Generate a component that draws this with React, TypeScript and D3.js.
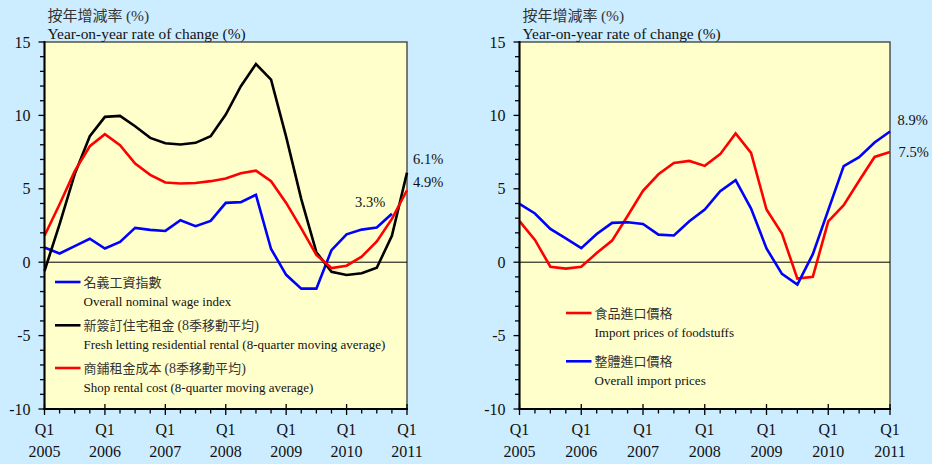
import React from 'react';
import * as d3 from 'd3';

// ---- data ----
const years = ['2005', '2006', '2007', '2008', '2009', '2010', '2011'];
const quarterLabel = 'Q1';
const yTickValues = [15, 10, 5, 0, -5, -10];

// Left panel (quarterly, from Q1 2005)
const wageIndex = [1.0, 0.59, 1.09, 1.6, 0.93, 1.38, 2.34, 2.2, 2.13, 2.86, 2.45, 2.81, 4.04, 4.09, 4.59, 0.9, -0.86, -1.8, -1.8, 0.82, 1.9, 2.22, 2.36, 3.3];
const freshRental = [-0.6, 2.6, 6.0, 8.58, 9.9, 9.97, 9.26, 8.47, 8.1, 8.02, 8.13, 8.58, 10.06, 11.99, 13.5, 12.44, 8.54, 4.3, 0.68, -0.65, -0.87, -0.75, -0.38, 1.8, 6.1];
const shopRental = [1.8, 3.95, 6.2, 7.9, 8.72, 7.97, 6.72, 5.95, 5.43, 5.36, 5.4, 5.52, 5.7, 6.06, 6.24, 5.52, 4.04, 2.3, 0.5, -0.4, -0.24, 0.38, 1.42, 2.95, 4.9];

// Right panel
const foodImport = [2.8, 1.52, -0.31, -0.44, -0.31, 0.62, 1.47, 3.15, 4.86, 5.99, 6.76, 6.9, 6.56, 7.36, 8.77, 7.45, 3.59, 1.95, -1.12, -1.0, 2.78, 3.88, 5.55, 7.17, 7.5];
const overallImport = [3.97, 3.32, 2.27, 1.62, 0.96, 1.92, 2.68, 2.72, 2.61, 1.88, 1.82, 2.79, 3.59, 4.84, 5.59, 3.65, 0.94, -0.8, -1.52, 0.55, 3.55, 6.55, 7.15, 8.15, 8.9];

const titleZh = '按年增減率 (%)';
const titleEn = 'Year-on-year rate of change (%)';

const SERIF = '"Liberation Serif", "Times New Roman", serif';
const CJK = '"Noto Sans CJK TC", "Noto Sans CJK SC", sans-serif';

type Series = { values: number[]; color: string };
type LegendItem = { color: string; zh: string; zhSuffix?: string; en: string; y: number };
type Note = { text: string; x: number; y: number };

const Y_TOP = 42;
const Y_BOT = 409;

function Panel({ x0, x1, series, legend, legendX, notes }: {
  x0: number; x1: number; series: Series[]; legend: LegendItem[]; legendX: number; notes: Note[];
}) {
  const nQ = (years.length - 1) * 4;
  const xs = d3.scaleLinear().domain([0, nQ]).range([x0, x1]);
  const ys = d3.scaleLinear().domain([-10, 15]).range([Y_BOT, Y_TOP]);
  const line = d3.line<number>().x((_, i) => xs(i)).y((d) => ys(d));
  const minorY = d3.range(-10, 16, 1);
  const qTicks = d3.range(0, nQ + 1);
  return (
    <g>
      <rect x={x0} y={Y_TOP} width={x1 - x0} height={Y_BOT - Y_TOP} fill="#FFFFCC" stroke="#3a3a3a" strokeWidth={1.3} />
      {/* zero line */}
      <line x1={x0} x2={x1} y1={ys(0)} y2={ys(0)} stroke="#000" strokeWidth={1} />
      {/* series */}
      {series.map((s, k) => (
        <path key={k} d={line(s.values) || ''} fill="none" stroke={s.color} strokeWidth={2.6} strokeLinejoin="miter" />
      ))}
      {/* y axis */}
      <line x1={x0} x2={x0} y1={Y_TOP - 1} y2={Y_BOT + 1} stroke="#000" strokeWidth={2} />
      {minorY.map((v) => (
        <line key={v} x1={yTickValues.includes(v) ? x0 - 6 : x0 - 4.5} x2={x0} y1={ys(v)} y2={ys(v)} stroke="#000" strokeWidth={1.3} />
      ))}
      {yTickValues.map((v) => (
        <text key={v} x={x0 - 14} y={ys(v) + 5.5} textAnchor="end" fontFamily={SERIF} fontSize={16} fill="#111">
          {v}
        </text>
      ))}
      {/* x axis */}
      <line x1={x0 - 1} x2={x1 + 1} y1={Y_BOT} y2={Y_BOT} stroke="#000" strokeWidth={2.2} />
      {qTicks.map((q) => (
        <line key={q} x1={xs(q)} x2={xs(q)} y1={q % 4 === 0 ? Y_BOT - 5 : Y_BOT} y2={q % 4 === 0 ? Y_BOT + 6 : Y_BOT + 4.5} stroke="#000" strokeWidth={1.3} />
      ))}
      {years.map((yr, i) => (
        <g key={yr}>
          <text x={xs(i * 4)} y={434.5} textAnchor="middle" fontFamily={SERIF} fontSize={16} fill="#111">{quarterLabel}</text>
          <text x={xs(i * 4)} y={456.5} textAnchor="middle" fontFamily={SERIF} fontSize={16} fill="#111">{yr}</text>
        </g>
      ))}
      {/* titles */}
      <text x={x0 + 3} y={20.5} fontFamily={CJK} fontSize={15} fill="#333">
        按年增減率 <tspan fontFamily={SERIF} fontSize={15.5}>(%)</tspan>
      </text>
      <text x={x0 + 3} y={38.5} fontFamily={SERIF} fontSize={15.4} fill="#111">{titleEn}</text>
      {/* legend */}
      {legend.map((l, k) => (
        <g key={k}>
          <line x1={legendX} x2={legendX + 25.5} y1={l.y} y2={l.y} stroke={l.color} strokeWidth={2.6} />
          <text x={legendX + 28.5} y={l.y + 5} fontFamily={CJK} fontSize={13} fill="#333">
            {l.zh}
            {l.zhSuffix ? (
              <tspan>
                {' '}
                <tspan fontFamily={SERIF} fontSize={14}>(8</tspan>季移動平均<tspan fontFamily={SERIF} fontSize={14}>)</tspan>
              </tspan>
            ) : null}
          </text>
          <text x={legendX + 28.5} y={l.y + 23.5} fontFamily={SERIF} fontSize={13} fill="#111">{l.en}</text>
        </g>
      ))}
      {notes.map((n, k) => (
        <text key={k} x={n.x} y={n.y} fontFamily={SERIF} fontSize={14.5} fill="#111">{n.text}</text>
      ))}
    </g>
  );
}

export default function App() {
  const leftSeries: Series[] = [
    { values: wageIndex, color: '#0000FF' },
    { values: freshRental, color: '#000000' },
    { values: shopRental, color: '#FF0000' },
  ];
  const rightSeries: Series[] = [
    { values: foodImport, color: '#FF0000' },
    { values: overallImport, color: '#0000FF' },
  ];
  const leftLegend: LegendItem[] = [
    { color: '#0000FF', zh: '名義工資指數', en: 'Overall nominal wage index', y: 282 },
    { color: '#000000', zh: '新簽訂住宅租金', zhSuffix: 'ma', en: 'Fresh letting residential rental (8-quarter moving average)', y: 325.3 },
    { color: '#FF0000', zh: '商鋪租金成本', zhSuffix: 'ma', en: 'Shop rental cost (8-quarter moving average)', y: 368 },
  ];
  const rightLegend: LegendItem[] = [
    { color: '#FF0000', zh: '食品進口價格', en: 'Import prices of foodstuffs', y: 313 },
    { color: '#0000FF', zh: '整體進口價格', en: 'Overall import prices', y: 361.3 },
  ];
  const leftNotes: Note[] = [
    { text: '6.1%', x: 413, y: 163.5 },
    { text: '4.9%', x: 413, y: 186.5 },
    { text: '3.3%', x: 355, y: 206.5 },
  ];
  const rightNotes: Note[] = [
    { text: '8.9%', x: 897.5, y: 125 },
    { text: '7.5%', x: 898.5, y: 156.5 },
  ];
  return (
    <svg width={932} height={464} style={{ position: 'absolute', left: 0, top: 0, display: 'block' }}>
      <rect x={0} y={0} width={932} height={464} fill="#CCECFF" />
      <Panel x0={44.5} x1={407} series={leftSeries} legend={leftLegend} legendX={55} notes={leftNotes} />
      <Panel x0={519.5} x1={890} series={rightSeries} legend={rightLegend} legendX={566} notes={rightNotes} />
    </svg>
  );
}
